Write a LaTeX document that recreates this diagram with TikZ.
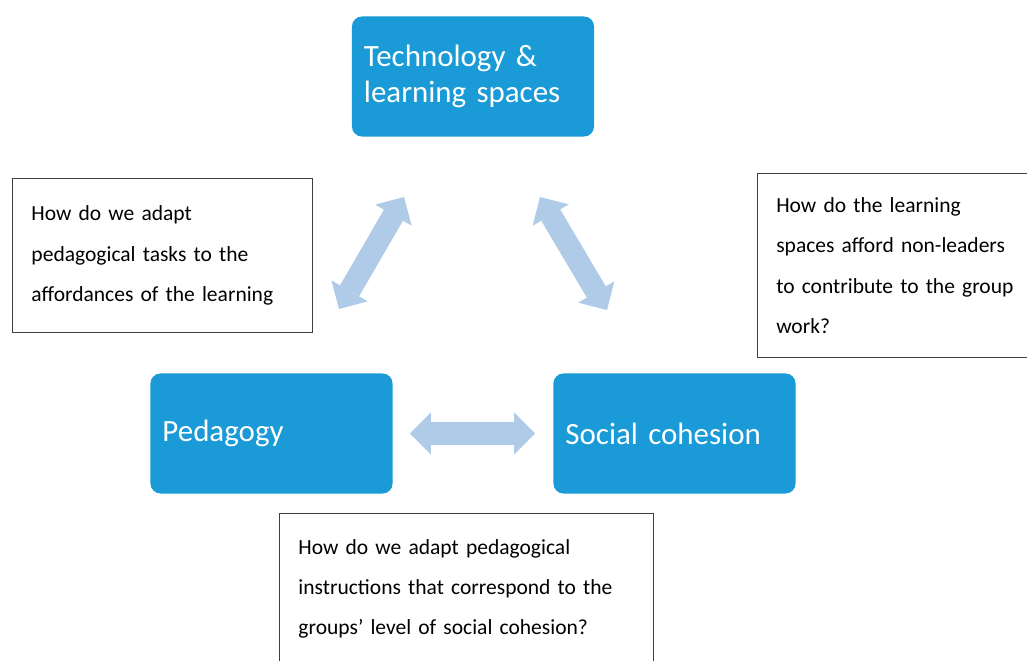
\documentclass[tikz,border=0pt]{standalone}
\usepackage{fontspec}
\setmainfont{Carlito}
\newfontfamily\qfont[WordSpace=0.7]{Carlito}
\usetikzlibrary{arrows.meta}
\definecolor{boxblue}{HTML}{1A9AD6}
\definecolor{arrowblue}{HTML}{AFCBE8}
\definecolor{framegray}{HTML}{3F3F3F}
\begin{document}
\begin{tikzpicture}[
    x=0.025cm, y=-0.025cm,
    topic/.style={rectangle, fill=boxblue, text=white, rounded corners=0.25cm, minimum width=6.05cm, minimum height=3.0cm, text width=5.45cm, inner xsep=0.3cm, align=left, font=\fontsize{22}{25}\selectfont},
    question/.style={rectangle, draw=framegray, line width=0.7pt, fill=white, inner xsep=0.47cm, align=left, font=\fontsize{15.3}{28.6}\qfont},
    dblarrow/.style={draw=arrowblue, line width=0.55cm, {Triangle[width=1.05cm, length=0.525cm, line width=0pt, fill=arrowblue]}-{Triangle[width=1.05cm, length=0.525cm, line width=0pt, fill=arrowblue]}}
]
    \clip (0,0) rectangle (1027,661);
    \fill[white] (0,0) rectangle (1027,661);

    % Main topics
    \node[topic] (tech) at (473,76.5) {Technology \&\\learning spaces};
    \node[topic] (ped) at (271.5,433.5) {Pedagogy};
    \node[topic] (soc) at (674.5,433.5) {Social cohesion};

    % Questions
    \node[question, anchor=north west, minimum width=7.5cm, minimum height=3.85cm, text width=6.55cm] (qleft) at (12,178) {How do we adapt\\pedagogical tasks to the\\affordances of the learning};
    \node[question, anchor=north west, minimum height=4.6cm, text width=6.3cm] (qright) at (757,173) {How do the learning\\spaces afford non-leaders\\to contribute to the group\\work?};
    \node[question, minimum width=9.33cm, minimum height=3.75cm, text width=8.4cm] (qbottom) at (466.5,589) {How do we adapt pedagogical\\instructions that correspond to the\\groups’ level of social cohesion?};

    % Arrow ends
    \coordinate (pedtip) at (339,309);
    \coordinate (techtipl) at (404,197);
    \coordinate (techtipr) at (540,197);
    \coordinate (soctip) at (607,310);

    % Arrows between topics
    \draw[dblarrow] (pedtip) -- (techtipl);
    \draw[dblarrow] (techtipr) -- (soctip);
    \draw[dblarrow, shorten <=0.425cm, shorten >=0.45cm] (ped.east) -- (soc.west);
\end{tikzpicture}
\end{document}
